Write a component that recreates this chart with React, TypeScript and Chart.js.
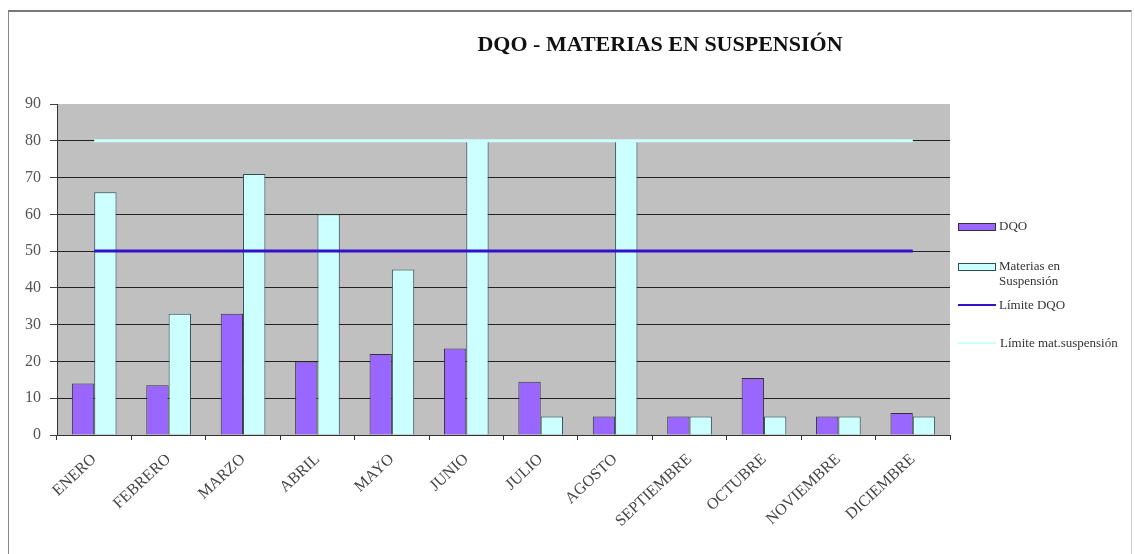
import React, { useEffect, useRef } from "react";
import { Chart, registerables } from "chart.js";

Chart.register(...registerables);

const months = ["ENERO", "FEBRERO", "MARZO", "ABRIL", "MAYO", "JUNIO", "JULIO", "AGOSTO", "SEPTIEMBRE", "OCTUBRE", "NOVIEMBRE", "DICIEMBRE"];
const dqo = [14, 13.5, 33, 20, 22, 23.5, 14.5, 5, 5, 15.5, 5, 6];
const materias = [66, 33, 71, 60, 45, 80, 5, 80, 5, 5, 5, 5];
const limiteDqo = [50, 50, 50, 50, 50, 50, 50, 50, 50, 50, 50, 50];
const limiteMat = [80, 80, 80, 80, 80, 80, 80, 80, 80, 80, 80, 80];

const SERIF = "'Liberation Serif', 'DejaVu Serif', serif";

const plotBg = {
  id: "plotBg",
  beforeDraw(chart: any) {
    const { ctx, chartArea } = chart;
    if (!chartArea) return;
    ctx.save();
    ctx.fillStyle = "#C0C0C0";
    ctx.fillRect(chartArea.left, chartArea.top, chartArea.right - chartArea.left, chartArea.bottom - chartArea.top);
    ctx.restore();
  },
};

export default function App() {
  const ref = useRef<HTMLCanvasElement | null>(null);

  useEffect(() => {
    if (!ref.current) return;
    const chart = new Chart(ref.current, {
      type: "bar",
      data: {
        labels: months,
        datasets: [
          {
            type: "line",
            label: "Límite DQO",
            data: limiteDqo,
            borderColor: "#3311CC",
            borderWidth: 3,
            pointRadius: 0,
            fill: false,
            order: 1,
          } as any,
          {
            type: "line",
            label: "Límite mat.suspensión",
            data: limiteMat,
            borderColor: "#CCFFFF",
            borderWidth: 3,
            pointRadius: 0,
            fill: false,
            order: 1,
          } as any,
          {
            label: "DQO",
            data: dqo,
            backgroundColor: "#9966FF",
            borderColor: "#333333",
            borderWidth: 1,
            categoryPercentage: 0.6,
            barPercentage: 1.0,
            order: 2,
          },
          {
            label: "Materias en Suspensión",
            data: materias,
            backgroundColor: "#CCFFFF",
            borderColor: "#2F4F4F",
            borderWidth: 1,
            categoryPercentage: 0.6,
            barPercentage: 1.0,
            order: 2,
          },
        ],
      },
      options: {
        animation: false,
        responsive: false,
        maintainAspectRatio: false,
        layout: { padding: { left: 0, top: 104, right: 185, bottom: 0 } },
        plugins: {
          legend: { display: false },
          title: { display: false },
          tooltip: { enabled: false },
        },
        scales: {
          x: {
            offset: true,
            grid: {
              display: true,
              drawOnChartArea: false,
              drawTicks: true,
              tickLength: 5,
              offset: true,
              color: "#333333",
            },
            border: { display: true, color: "#333333", width: 1 },
            ticks: {
              autoSkip: false,
              minRotation: 43,
              maxRotation: 43,
              padding: 10,
              color: "#444444",
              font: { family: SERIF, size: 16 },
            },
            afterFit(scale: any) {
              scale.height = 119;
            },
          },
          y: {
            min: 0,
            max: 90,
            ticks: {
              stepSize: 10,
              padding: 9,
              color: "#555555",
              font: { family: SERIF, size: 16 },
            },
            grid: {
              color: (ctx: any) => (ctx.tick && ctx.tick.value === 90 ? "rgba(0,0,0,0)" : "#222222"),
              tickColor: "#444444",
              tickLength: 7,
              lineWidth: 1,
            },
            border: { display: true, color: "#333333", width: 1 },
            afterFit(scale: any) {
              scale.width = 57;
            },
          },
        },
      },
      plugins: [plotBg],
    });
    return () => chart.destroy();
  }, []);

  const legendText: React.CSSProperties = {
    position: "absolute",
    fontFamily: SERIF,
    fontSize: 13,
    color: "#333",
    lineHeight: "15px",
    whiteSpace: "nowrap",
  };

  return (
    <div style={{ position: "absolute", left: 0, top: 0, width: 1135, height: 554, overflow: "hidden", background: "#fff" }}>
      <div
        style={{
          position: "absolute",
          left: 8,
          top: 10,
          width: 1124,
          height: 560,
          borderTop: "2px solid #777",
          borderLeft: "1px solid #888",
          borderRight: "1px solid #ccc",
          boxSizing: "border-box",
        }}
      />
      <canvas ref={ref} width={1135} height={554} style={{ position: "absolute", left: 0, top: 0, width: 1135, height: 554 }} />
      <div
        style={{
          position: "absolute",
          left: 440,
          top: 31,
          width: 440,
          textAlign: "center",
          fontFamily: SERIF,
          fontWeight: "bold",
          fontSize: 22,
          color: "#111",
        }}
      >
        DQO - MATERIAS EN SUSPENSIÓN
      </div>
      {/* Legend */}
      <div style={{ position: "absolute", left: 958, top: 223, width: 36, height: 6, background: "#9966FF", border: "1px solid #333" }} />
      <div style={{ ...legendText, left: 999, top: 218 }}>DQO</div>
      <div style={{ position: "absolute", left: 958, top: 263, width: 36, height: 6, background: "#CCFFFF", border: "1px solid #2F4F4F" }} />
      <div style={{ ...legendText, left: 999, top: 258 }}>
        Materias en
        <br />
        Suspensión
      </div>
      <div style={{ position: "absolute", left: 958, top: 304, width: 38, height: 2, background: "#3311CC" }} />
      <div style={{ ...legendText, left: 999, top: 297 }}>Límite DQO</div>
      <div style={{ position: "absolute", left: 958, top: 342, width: 38, height: 2, background: "#CCFFFF" }} />
      <div style={{ ...legendText, left: 1000, top: 335 }}>Límite mat.suspensión</div>
    </div>
  );
}
